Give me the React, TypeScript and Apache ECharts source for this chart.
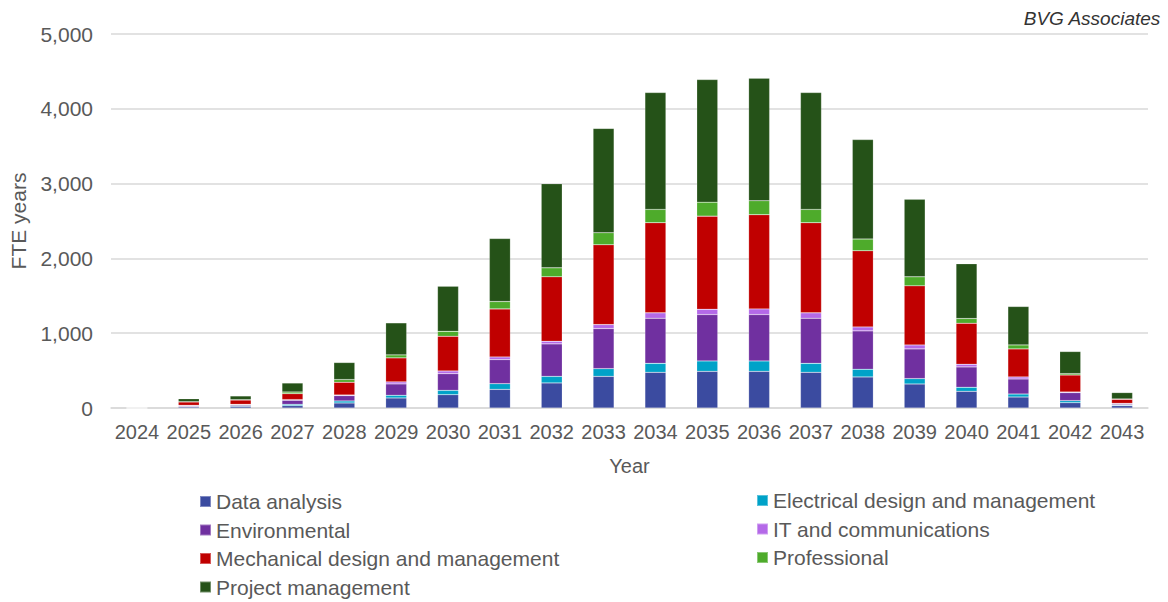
import React, { useEffect, useRef } from "react";
import * as echarts from "echarts";

const years = ["2024","2025","2026","2027","2028","2029","2030","2031","2032","2033","2034","2035","2036","2037","2038","2039","2040","2041","2042","2043"];

const dataAnalysis = [0, 15, 22, 31, 67, 134, 178, 249, 335, 423, 477, 490, 490, 477, 415, 321, 223, 147, 71, 30];
const electrical = [0, 5, 10, 18, 27, 36, 58, 76, 88, 103, 120, 139, 139, 120, 103, 72, 54, 40, 27, 10];
const environmental = [0, 12, 12, 54, 71, 152, 223, 322, 434, 536, 603, 620, 620, 603, 513, 397, 272, 201, 107, 13];
const itComms = [0, 4, 5, 9, 9, 27, 36, 36, 35, 53, 72, 71, 76, 72, 53, 53, 36, 27, 9, 9];
const mechanical = [0, 45, 58, 80, 170, 321, 464, 642, 862, 1067, 1205, 1245, 1259, 1205, 1018, 790, 548, 375, 227, 54];
const professional = [0, 3, 4, 22, 36, 40, 66, 98, 120, 161, 178, 187, 187, 178, 157, 121, 63, 53, 18, 5];
const projectMgmt = [0, 40, 50, 120, 228, 428, 603, 843, 1125, 1395, 1562, 1639, 1637, 1562, 1329, 1036, 732, 514, 296, 85];

const seriesNames = [
  "Data analysis",
  "Electrical design and management",
  "Environmental",
  "IT and communications",
  "Mechanical design and management",
  "Professional",
  "Project management",
];
const seriesData = [dataAnalysis, electrical, environmental, itComms, mechanical, professional, projectMgmt];
const colors = ["#3B4BA0", "#00A2C8", "#7030A0", "#B469E8", "#C00000", "#4EAB2B", "#255218"];

const FONT = "'Liberation Sans', Arial, sans-serif";
const GREY = "#595959";

export default function App() {
  const ref = useRef<HTMLDivElement>(null);
  useEffect(() => {
    if (!ref.current) return;
    const chart = echarts.init(ref.current, undefined, { renderer: "svg" });
    const legendText = { fontSize: 21, color: GREY, fontFamily: FONT, lineHeight: 21 };
    chart.setOption({
      animation: false,
      color: colors,
      title: {
        text: "BVG Associates",
        right: 7,
        top: 9,
        padding: 0,
        textStyle: { fontSize: 19, fontStyle: "italic", fontWeight: "normal", color: "#333333", fontFamily: FONT },
      },
      grid: { left: 109, right: 20, top: 34, bottom: 194, containLabel: false },
      legend: [
        {
          orient: "vertical",
          left: 199,
          top: 491,
          height: 120,
          padding: 0,
          itemGap: 7.5,
          itemWidth: 11,
          itemHeight: 11,
          icon: "rect",
          textStyle: legendText,
          data: [seriesNames[0], seriesNames[2], seriesNames[4], seriesNames[6]],
        },
        {
          orient: "vertical",
          left: 756,
          top: 490,
          height: 100,
          padding: 0,
          itemGap: 7.5,
          itemWidth: 11,
          itemHeight: 11,
          icon: "rect",
          textStyle: legendText,
          data: [seriesNames[1], seriesNames[3], seriesNames[5]],
        },
      ],
      xAxis: {
        type: "category",
        data: years,
        name: "Year",
        nameLocation: "middle",
        nameGap: 48,
        nameTextStyle: { fontSize: 20, color: GREY, fontFamily: FONT },
        axisLine: { lineStyle: { color: "#D9D9D9", width: 1.5 } },
        axisTick: { show: false },
        axisLabel: { fontSize: 20, color: GREY, fontFamily: FONT, margin: 14, interval: 0 },
      },
      yAxis: {
        type: "value",
        min: 0,
        max: 5000,
        interval: 1000,
        name: "FTE years",
        nameLocation: "middle",
        nameGap: 82,
        nameTextStyle: { fontSize: 21, color: GREY, fontFamily: FONT },
        axisLine: { show: false },
        axisTick: { show: false },
        axisLabel: {
          fontSize: 21,
          color: GREY,
          fontFamily: FONT,
          margin: 18,
          formatter: (v: number) => v.toLocaleString("en-US"),
        },
        splitLine: { lineStyle: { color: "#D9D9D9", width: 1.5 } },
      },
      series: seriesNames.map((name, i) => ({
        name,
        type: "bar",
        stack: "total",
        barWidth: 21,
        data: seriesData[i],
        itemStyle: { color: colors[i], borderColor: "rgba(255,255,255,0.35)", borderWidth: 0.5 },
      })),
    });
    return () => chart.dispose();
  }, []);
  return (
    <div
      ref={ref}
      style={{ position: "fixed", left: 0, top: 0, width: 1168, height: 602, background: "#ffffff" }}
    />
  );
}
